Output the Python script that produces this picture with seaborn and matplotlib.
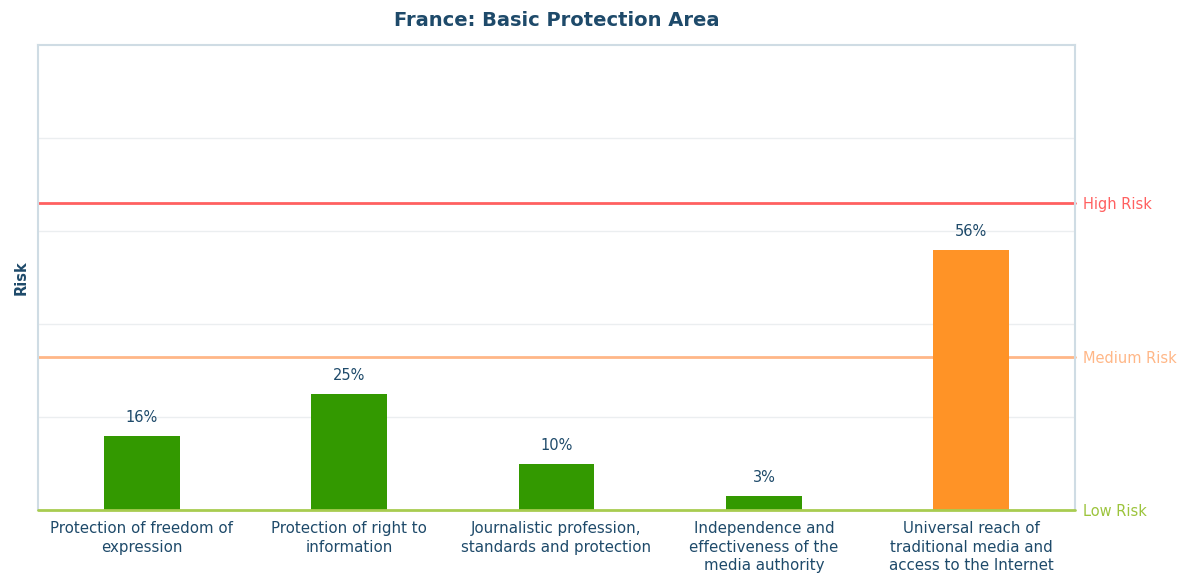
import matplotlib
matplotlib.use("Agg")
import matplotlib.pyplot as plt
import seaborn as sns
import pandas as pd

categories = [
    "Protection of freedom of\nexpression",
    "Protection of right to\ninformation",
    "Journalistic profession,\nstandards and protection",
    "Independence and\neffectiveness of the\nmedia authority",
    "Universal reach of\ntraditional media and\naccess to the Internet",
]
values = [16, 25, 10, 3, 56]
bar_colors = ["#339900", "#339900", "#339900", "#339900", "#FF9326"]
thresholds = {"High Risk": 66, "Medium Risk": 33, "Low Risk": 0}
threshold_colors = {"High Risk": "#FF6060", "Medium Risk": "#FFB787", "Low Risk": "#A8CC50"}

sns.set_style("white")
plt.rcParams['font.family'] = ['DejaVu Sans']

text_color = "#1E4A6A"
border_color = "#CFDCE4"

fig = plt.figure(figsize=(11.85, 5.73), dpi=100)
ax = fig.add_axes([38/1185, 63/573, 1037/1185, 465/573])

df = pd.DataFrame({"cat": categories, "val": values})
sns.barplot(data=df, x="cat", y="val", hue="cat", palette=bar_colors,
            legend=False, width=0.365, ax=ax, saturation=1, zorder=3, linewidth=0)

ax.set_xlim(-0.5, len(categories) - 0.5)
ax.set_ylim(0, 100)
ax.set_yticks([20, 40, 60, 80])
ax.set_yticklabels([])
ax.tick_params(axis='y', length=0)
ax.tick_params(axis='x', length=0, labelsize=10.8, labelcolor=text_color, pad=8)
for lbl in ax.get_xticklabels():
    lbl.set_linespacing(1.3)
ax.grid(axis='y', color="#EBEEF0", linewidth=1, zorder=0)
ax.set_xlabel("")
ax.set_ylabel("Risk", fontsize=10.5, fontweight='bold', color=text_color, labelpad=3)

for s in ["left", "right", "top"]:
    ax.spines[s].set_color(border_color)
    ax.spines[s].set_linewidth(1.5)
ax.spines["bottom"].set_visible(False)

for name, yv in thresholds.items():
    ax.axhline(yv, color=threshold_colors[name], linewidth=2, zorder=2 if yv > 0 else 4,
               clip_on=False)
    ax.text(1.008, yv - 0.4, name, transform=ax.get_yaxis_transform(), va='center', ha='left',
            fontsize=10.5, color=threshold_colors[name] if name != "Low Risk" else "#9CC43C")

for i, v in enumerate(values):
    ax.text(i, v + 2.3, f"{v}%", ha='center', va='bottom', fontsize=10.5, color=text_color)

fig.suptitle("France: Basic Protection Area", x=(38 + 1037/2)/1185, y=1 - 20/573, va='center',
             fontsize=14, fontweight='bold', color=text_color)

fig.savefig("out.png", dpi=100)
